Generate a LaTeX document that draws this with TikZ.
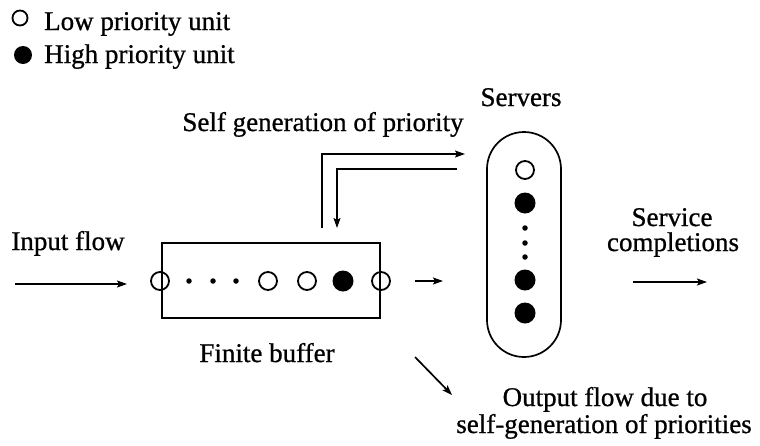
\documentclass[tikz,border=0pt]{standalone}
\usepackage{fontspec}
\setmainfont{Liberation Serif}
\usetikzlibrary{arrows.meta}
\begin{document}
\begin{tikzpicture}[x=1pt,y=-1pt,
  lbl/.style={inner sep=0pt, font=\fontsize{27}{20}\selectfont\addfontfeature{FakeBold=0.8}},
  unitlow/.style={circle, draw, line width=1.8pt, minimum size=18pt, inner sep=0pt},
  unithigh/.style={circle, fill, minimum size=21pt, inner sep=0pt},
  dotsm/.style={circle, fill, minimum size=5.5pt, inner sep=0pt},
  flow/.style={line width=1.7pt, -{Stealth[length=10pt,width=7pt,inset=2pt]}},
  frame/.style={draw, line width=1.7pt, inner sep=0pt},
]
\useasboundingbox (0,0) rectangle (760,445);

% legend
\node[unitlow, minimum size=15pt] (leglow) at (20,18) {};
\node[unithigh, minimum size=18pt] (leghigh) at (23,55) {};
\node[lbl, anchor=base west] (lowtxt) at (44,30) {Low priority unit};
\node[lbl, anchor=base west] (hightxt) at (44,63) {High priority unit};

% finite buffer
\node[frame, minimum width=218pt, minimum height=75pt] (buffer) at (271,280.5) {};
\node[unitlow] (b1) at (160,281) {};
\node[dotsm] (bd1) at (189,281) {};
\node[dotsm] (bd2) at (213,281) {};
\node[dotsm] (bd3) at (236,281) {};
\node[unitlow] (b2) at (268,281) {};
\node[unitlow] (b3) at (307,281) {};
\node[unithigh] (b4) at (343,281) {};
\node[unitlow] (b5) at (381,281) {};
\node[lbl, anchor=base] (fbtxt) at (267,362) {Finite buffer};

% servers
\node[frame, rounded corners=37pt, minimum width=74pt, minimum height=225pt] (servers) at (524,244.5) {};
\node[unitlow] (s1) at (525,170) {};
\node[unithigh] (s2) at (525,203) {};
\node[dotsm] (sd1) at (525,228) {};
\node[dotsm] (sd2) at (525,243) {};
\node[dotsm] (sd3) at (525,257) {};
\node[unithigh] (s3) at (525,280) {};
\node[unithigh] (s4) at (525,313) {};
\node[lbl, anchor=base] (srvtxt) at (521,106) {Servers};

% labels
\node[lbl, anchor=base] (intxt) at (68,250) {Input flow};
\node[lbl, anchor=base] (selfgen) at (323,131) {Self generation of priority};
\node[lbl, anchor=base] (svc1) at (672,226) {Service};
\node[lbl, anchor=base] (svc2) at (673,251) {completions};
\node[lbl, anchor=base] (out1) at (605,406) {Output flow due to};
\node[lbl, anchor=base] (out2) at (604,433) {self-generation of priorities};

% flow arrows
\coordinate (inA) at (15,284);
\coordinate (inB) at (127,284);
\coordinate (bsA) at (415,281);
\coordinate (bsB) at (443,281);
\coordinate (scA) at (633,282);
\coordinate (scB) at (707,282);
\coordinate (ofA) at (415,357);
\coordinate (ofB) at (452,395);
\coordinate (upA) at (322,228);
\coordinate (upB) at (465,154);
\coordinate (dnA) at (457,169);
\coordinate (dnB) at (337,228);

\draw[flow] (inA) -- (inB);
\draw[flow] (bsA) -- (bsB);
\draw[flow] (scA) -- (scB);
\draw[flow] (ofA) -- (ofB);
\draw[flow] (upA) |- (upB);
\draw[flow] (dnA) -| (dnB);
\end{tikzpicture}
\end{document}
